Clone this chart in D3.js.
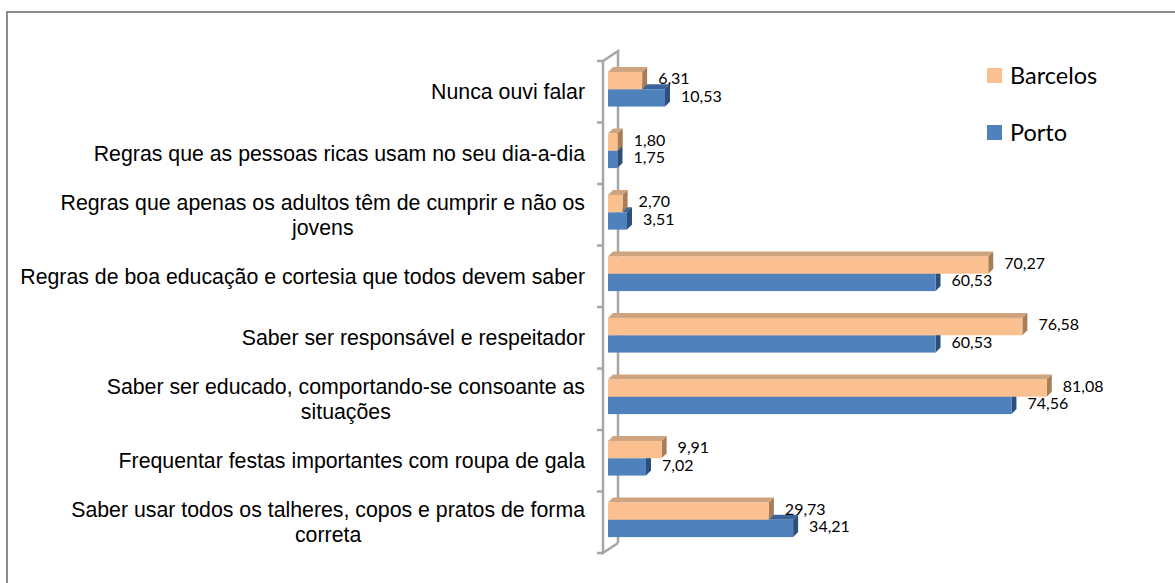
<!DOCTYPE html>
<html lang="pt">
<head>
  <meta charset="UTF-8">
  <title>Barcelos vs Porto</title>
  <script src="https://d3js.org/d3.v7.min.js"></script>
  <style>
    body { margin: 0; background: #fff; }
    .cat { font-family: "Liberation Sans", Arial, sans-serif; font-size: 21.3px; fill: #000; }
    .val { font-family: Lato, "Open Sans", sans-serif; font-size: 16px; fill: #000; }
    .leg { font-family: Lato, "Open Sans", sans-serif; font-size: 23.5px; fill: #000; }
  </style>
</head>
<body>
<div id="chart"></div>
<script>
  // categories, top to bottom
  const categories = [
    "Nunca ouvi falar",
    "Regras que as pessoas ricas usam no seu dia-a-dia",
    "Regras que apenas os adultos têm de cumprir e não os\njovens",
    "Regras de boa educação e cortesia que todos devem saber",
    "Saber ser responsável e respeitador",
    "Saber ser educado, comportando-se consoante as\nsituações",
    "Frequentar festas importantes com roupa de gala",
    "Saber usar todos os talheres, copos e pratos de forma\ncorreta"
  ];
  const seriesNames = ["Barcelos", "Porto"];
  const barcelos = [6.31, 1.80, 2.70, 70.27, 76.58, 81.08, 9.91, 29.73];
  const porto    = [10.53, 1.75, 3.51, 60.53, 60.53, 74.56, 7.02, 34.21];

  const colors = {
    Barcelos: { front: "#FAC090", side: "#A87D55", top: "#CDA47E" },
    Porto:    { front: "#4F81BD", side: "#2C4E7B", top: "#3A6499" }
  };

  const width = 1175, height = 583;
  const dx = 5, dy = 5;   // 3d depth offset

  const svg = d3.select("#chart").append("svg")
    .attr("width", width)
    .attr("height", height);

  // chart border
  svg.append("rect")
    .attr("x", 7).attr("y", 12)
    .attr("width", width + 10).attr("height", height + 10)
    .attr("fill", "#fff")
    .attr("stroke", "#8c8c8c")
    .attr("stroke-width", 2);

  const x = d3.scaleLinear().domain([0, 90]).range([608, 1095]);
  const y = d3.scaleBand().domain(categories).range([61, 553]);

  // wall / axis lines
  const wallFront = 603, wallBack = 618;
  const wall = svg.append("g")
    .attr("stroke", "#a6a6a6")
    .attr("stroke-width", 2.5)
    .attr("fill", "none");
  wall.append("path")
    .attr("d", `M${wallFront},${y.range()[0]} L${wallBack},${y.range()[0] - 10} L${wallBack},${y.range()[1] - 10}`);
  wall.append("path")
    .attr("d", `M${wallFront},${y.range()[0]} L${wallFront},${y.range()[1]} L${wallBack},${y.range()[1] - 10}`);
  const tickYs = categories.map(c => y(c)).concat([y.range()[1]]);
  wall.selectAll("line.tick")
    .data(tickYs)
    .enter()
    .append("line")
    .attr("class", "tick")
    .attr("x1", wallFront - 6).attr("x2", wallFront)
    .attr("y1", d => d).attr("y2", d => d);

  // bars (Porto first so Barcelos sits over its top face)
  const rows = [];
  categories.forEach((c, i) => {
    rows.push({ cat: c, series: "Porto", value: porto[i] });
    rows.push({ cat: c, series: "Barcelos", value: barcelos[i] });
  });

  const barH = y.bandwidth() * 0.282;
  const inner = d3.scaleBand().domain(seriesNames).range([-barH, barH]);
  const barY = d => y(d.cat) + y.bandwidth() / 2 - 2.5 + inner(d.series);

  const bars = svg.append("g").selectAll("g.bar")
    .data(rows)
    .enter()
    .append("g")
    .attr("class", "bar");

  bars.append("polygon")
    .attr("fill", d => colors[d.series].top)
    .attr("points", d => {
      const x0 = x(0), x1 = x(d.value), y0 = barY(d);
      return [[x0, y0], [x1, y0], [x1 + dx, y0 - dy], [x0 + dx, y0 - dy]].join(" ");
    });
  bars.append("polygon")
    .attr("fill", d => colors[d.series].side)
    .attr("points", d => {
      const x1 = x(d.value), y0 = barY(d), y1 = y0 + inner.bandwidth();
      return [[x1, y0], [x1 + dx, y0 - dy], [x1 + dx, y1 - dy], [x1, y1]].join(" ");
    });
  bars.append("rect")
    .attr("fill", d => colors[d.series].front)
    .attr("x", x(0))
    .attr("y", barY)
    .attr("width", d => x(d.value) - x(0))
    .attr("height", inner.bandwidth());

  // value labels
  svg.append("g").selectAll("text")
    .data(rows)
    .enter()
    .append("text")
    .attr("class", "val")
    .attr("x", d => x(d.value) + 16)
    .attr("y", d => barY(d) + inner.bandwidth() / 2 - 2)
    .attr("dy", "0.35em")
    .text(d => d3.format(".2f")(d.value).replace(".", ","));

  // category labels (right-aligned block, lines centred)
  const labelRight = 585;
  categories.forEach(c => {
    const lines = c.split("\n");
    const g = svg.append("g");
    const texts = lines.map(l => g.append("text").attr("class", "cat").text(l));
    const maxW = d3.max(texts, t => t.node().getComputedTextLength());
    const cy = y(c) + y.bandwidth() / 2;
    const lh = 25;
    texts.forEach((t, k) => {
      t.attr("text-anchor", "middle")
        .attr("x", labelRight - maxW / 2)
        .attr("y", cy + (k - (lines.length - 1) / 2) * lh)
        .attr("dy", "0.35em");
    });
  });

  // legend
  const legend = svg.append("g").selectAll("g")
    .data(seriesNames)
    .enter()
    .append("g")
    .attr("transform", (d, i) => `translate(987, ${68 + i * 57})`);
  legend.append("rect")
    .attr("width", 15).attr("height", 15)
    .attr("fill", d => colors[d].front);
  legend.append("text")
    .attr("class", "leg")
    .attr("x", 23).attr("y", 8)
    .attr("dy", "0.35em")
    .text(d => d);
</script>
</body>
</html>
